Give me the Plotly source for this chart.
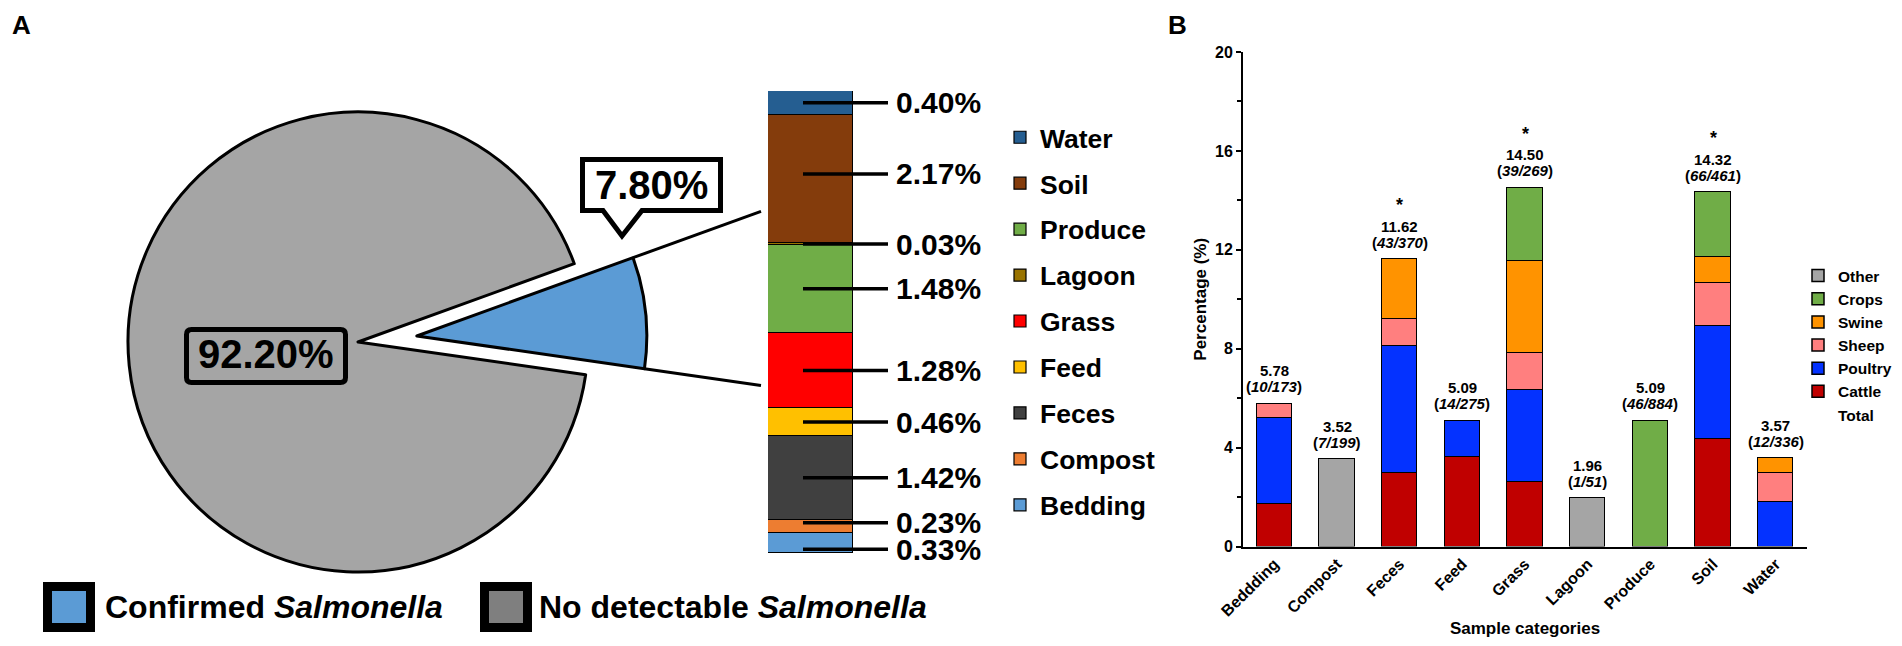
import math
import plotly.graph_objects as go

# The page has an 8px body margin, so the figure is 16px smaller than the window
# and all positions below are given in window pixels, then shifted by OFF.
WIN_W, WIN_H, OFF = 1902, 646, 8
W, H = WIN_W - 2 * OFF, WIN_H - 2 * OFF
FONT = "Liberation Sans, Arial, Helvetica, sans-serif"

# ---------------- data: panel A (pie) ----------------
pie_labels = ["Confirmed Salmonella", "No detectable Salmonella"]
pie_values = [7.80, 92.20]
pie_colors = ["#5B9BD5", "#A5A5A5"]
pie_legend_colors = ["#5B9BD5", "#7F7F7F"]

# ---------------- data: panel A (breakdown of positives, bottom -> top) -------
src_names = ["Bedding", "Compost", "Feces", "Feed", "Grass", "Produce", "Lagoon", "Soil", "Water"]
src_values = [0.33, 0.23, 1.42, 0.46, 1.28, 1.48, 0.03, 2.17, 0.40]
src_colors = ["#5B9BD5", "#ED7D31", "#404040", "#FFC000", "#FF0000", "#70AD47", "#997300", "#843C0C", "#255E91"]
src_legend_order = ["Water", "Soil", "Produce", "Lagoon", "Grass", "Feed", "Feces", "Compost", "Bedding"]

# ---------------- data: panel B ----------------
categories = ["Beddding", "Compost", "Feces", "Feed", "Grass", "Lagoon", "Produce", "Soil", "Water"]
cattle  = [1.73, None, 2.97, 3.64, 2.60, None, None, 4.34, None]
poultry = [3.47, None, 5.14, 1.45, 3.72, None, None, 4.56, 1.79]
sheep   = [0.58, None, 1.08, None, 1.49, None, None, 1.74, 1.19]
swine   = [None, None, 2.43, None, 3.72, None, None, 1.08, 0.59]
crops   = [None, None, None, None, 2.97, None, 5.09, 2.60, None]
other   = [None, 3.52, None, None, None, 1.96, None, None, None]
totals_pct = [5.78, 3.52, 11.62, 5.09, 14.50, 1.96, 5.09, 14.32, 3.57]
totals_frac = ["10/173", "7/199", "43/370", "14/275", "39/269", "1/51", "46/884", "66/461", "12/336"]
significant = [False, False, True, False, True, False, False, True, False]

series_names = ["Cattle", "Poultry", "Sheep", "Swine", "Crops", "Other"]
series_values = [cattle, poultry, sheep, swine, crops, other]
series_colors = ["#C00000", "#0432FF", "#FF7F7F", "#FF9300", "#70AD47", "#A5A5A5"]
series_legend_order = ["Other", "Crops", "Swine", "Sheep", "Poultry", "Cattle", "Total"]

# label nudges (pixels, positive = up) for crowded labels of the breakdown bar
label_nudge = {"Compost": 4, "Bedding": -6, "Soil": 5}


def px_x(p):
    return (p - OFF) / W


def px_y(p):
    return 1 - (p - OFF) / H


fig = go.Figure()

# ---------------- pie ----------------
PIE_CX, PIE_CY, PIE_R, PULL, ROT = 358, 342, 230, 0.257, 70.1
half = PIE_R * (1 + PULL)
fig.add_trace(go.Pie(
    labels=pie_labels, values=pie_values, sort=False, direction="clockwise",
    rotation=ROT, pull=[PULL, 0],
    marker=dict(colors=pie_colors, line=dict(color="black", width=3)),
    textinfo="none", hoverinfo="label+percent", showlegend=False,
    domain=dict(x=[px_x(PIE_CX - half), px_x(PIE_CX + half)],
                y=[px_y(PIE_CY + half), px_y(PIE_CY - half)]),
))

# zoom lines from the pulled slice to the stacked bar
frac = pie_values[0] / sum(pie_values)
a1 = math.radians(ROT)
a2 = math.radians(ROT + 360 * frac)
am = (a1 + a2) / 2
pcx = PIE_CX + PULL * PIE_R * math.sin(am)
pcy = PIE_CY - PULL * PIE_R * math.cos(am)
BAR_L, BAR_R, BAR_T, BAR_B = 768, 853, 91, 553
for a in (a1, a2):
    sx, sy = pcx + PIE_R * math.sin(a), pcy - PIE_R * math.cos(a)
    t = (BAR_L - 7 - sx) / math.sin(a)
    ex, ey = sx + t * math.sin(a), sy - t * math.cos(a)
    fig.add_shape(type="line", xref="paper", yref="paper",
                  x0=px_x(sx), y0=px_y(sy), x1=px_x(ex), y1=px_y(ey),
                  line=dict(color="black", width=3))

# ---------------- stacked breakdown bar ----------------
X2_RIGHT = 990
unit = BAR_R - BAR_L
total_src = sum(src_values)
px_per_val = (BAR_B - BAR_T) / total_src
cum = 0
for name, v, c in zip(src_names, src_values, src_colors):
    fig.add_trace(go.Bar(
        x=[0], y=[v], width=1, name=name, xaxis="x2", yaxis="y2",
        marker=dict(color=c, line=dict(color="black", width=1.2)),
        legend="legend", legendrank=src_legend_order.index(name) + 1,
        legendgroup=name, hoverinfo="name+y",
    ))
    mid = cum + v / 2 + label_nudge.get(name, 0) / px_per_val
    cum += v
    fig.add_shape(type="line", xref="x2", yref="y2",
                  x0=(803 - BAR_L) / unit - 0.5, x1=(888 - BAR_L) / unit - 0.5,
                  y0=mid, y1=mid, line=dict(color="black", width=3.5))
    fig.add_annotation(xref="x2", yref="y2", x=(894 - BAR_L) / unit - 0.5, y=mid,
                       xanchor="left", yanchor="middle", showarrow=False,
                       text=f"<b>{v:.2f}%</b>", font=dict(size=30, color="black"))

# ---------------- panel B bars ----------------
for name, vals, c in zip(series_names, series_values, series_colors):
    fig.add_trace(go.Bar(
        x=categories, y=vals, name=name, xaxis="x3", yaxis="y3", width=0.56,
        marker=dict(color=c, line=dict(color="black", width=1.5)),
        legend="legend2", legendrank=series_legend_order.index(name) + 1,
    ))
fig.add_trace(go.Scatter(
    x=[None], y=[None], name="Total", mode="markers", xaxis="x3", yaxis="y3",
    marker=dict(color="rgba(0,0,0,0)", size=1), legend="legend2",
    legendrank=series_legend_order.index("Total") + 1,
))

for cat, tot, fr, sig in zip(categories, totals_pct, totals_frac, significant):
    fig.add_annotation(xref="x3", yref="y3", x=cat, y=tot, xanchor="center", yanchor="middle",
                       yshift=17, showarrow=False,
                       text=f"<b>(<i>{fr}</i>)</b>", font=dict(size=15, color="black"))
    fig.add_annotation(xref="x3", yref="y3", x=cat, y=tot, xanchor="center", yanchor="middle",
                       yshift=33, showarrow=False,
                       text=f"<b>{tot:.2f}</b>", font=dict(size=15, color="black"))
    if sig:
        fig.add_annotation(xref="x3", yref="y3", x=cat, y=tot, xanchor="center", yanchor="middle",
                           yshift=54, showarrow=False,
                           text="<b>*</b>", font=dict(size=18, color="black"))


# ---------------- callouts ----------------
def rounded_box(x0, y0, x1, y1, r=5):
    pts = [
        f"M {px_x(x0 + r)},{px_y(y0)}", f"L {px_x(x1 - r)},{px_y(y0)}",
        f"Q {px_x(x1)},{px_y(y0)} {px_x(x1)},{px_y(y0 + r)}", f"L {px_x(x1)},{px_y(y1 - r)}",
        f"Q {px_x(x1)},{px_y(y1)} {px_x(x1 - r)},{px_y(y1)}", f"L {px_x(x0 + r)},{px_y(y1)}",
        f"Q {px_x(x0)},{px_y(y1)} {px_x(x0)},{px_y(y1 - r)}", f"L {px_x(x0)},{px_y(y0 + r)}",
        f"Q {px_x(x0)},{px_y(y0)} {px_x(x0 + r)},{px_y(y0)}", "Z",
    ]
    return " ".join(pts)


fig.add_shape(type="path", xref="paper", yref="paper",
              path=rounded_box(186.5, 329.5, 345.5, 382.5),
              fillcolor=pie_colors[1], line=dict(color="black", width=5))
fig.add_annotation(xref="paper", yref="paper", x=px_x(266), y=px_y(354),
                   xanchor="center", yanchor="middle",
                   showarrow=False, text=f"<b>{pie_values[1]:.2f}%</b>",
                   font=dict(size=40, color="black"))

bx0, bx1, by0, by1 = 582.5, 720.5, 159.5, 210.5
path = (f"M {px_x(bx0)},{px_y(by0)} L {px_x(bx1)},{px_y(by0)} L {px_x(bx1)},{px_y(by1)} "
        f"L {px_x(642)},{px_y(by1)} L {px_x(622)},{px_y(236)} L {px_x(603)},{px_y(by1)} "
        f"L {px_x(bx0)},{px_y(by1)} Z")
fig.add_shape(type="path", xref="paper", yref="paper", path=path,
              fillcolor="white", line=dict(color="black", width=5))
fig.add_annotation(xref="paper", yref="paper", x=px_x((bx0 + bx1) / 2), y=px_y(185),
                   xanchor="center", yanchor="middle",
                   showarrow=False, text=f"<b>{pie_values[0]:.2f}%</b>",
                   font=dict(size=40, color="black"))

# ---------------- pie legend ----------------
for (x0, tx), lab, col in zip([(47.5, 103), (484.5, 537)], pie_labels, pie_legend_colors):
    fig.add_shape(type="rect", xref="paper", yref="paper",
                  x0=px_x(x0), x1=px_x(x0 + 43), y0=px_y(586.5), y1=px_y(627.5),
                  fillcolor=col, line=dict(color="black", width=9))
    word, sal = lab.rsplit(" ", 1)
    fig.add_annotation(xref="paper", yref="paper", x=px_x(tx), y=px_y(607),
                       xanchor="left", yanchor="middle", showarrow=False,
                       text=f"<b>{word} <i>{sal}</i></b>", font=dict(size=32, color="black"))

# panel letters
fig.add_annotation(xref="paper", yref="paper", x=px_x(10), y=px_y(OFF), xanchor="left",
                   yanchor="top", showarrow=False, text="<b>A</b>",
                   font=dict(size=26, color="black"))
fig.add_annotation(xref="paper", yref="paper", x=px_x(1166), y=px_y(OFF), xanchor="left",
                   yanchor="top", showarrow=False, text="<b>B</b>",
                   font=dict(size=26, color="black"))

B_L, B_R, B_T, B_B = 1243, 1807, 52, 546.5
fig.update_layout(
    width=W, height=H, margin=dict(l=0, r=0, t=0, b=0, pad=0, autoexpand=False),
    paper_bgcolor="white", plot_bgcolor="rgba(0,0,0,0)",
    font=dict(family=FONT, color="black"),
    barmode="stack", bargap=0,
    xaxis2=dict(domain=[px_x(BAR_L), px_x(X2_RIGHT)], range=[-0.5, (X2_RIGHT - BAR_L) / unit - 0.5],
                visible=False, anchor="y2"),
    yaxis2=dict(domain=[px_y(BAR_B), px_y(BAR_T)], range=[0, total_src], visible=False, anchor="x2"),
    xaxis3=dict(domain=[px_x(B_L), px_x(B_R)], anchor="y3", showline=True, linecolor="black",
                linewidth=2, ticks="", tickangle=-45, tickfont=dict(size=16, weight="bold"),
                title=dict(text="Sample categories", font=dict(size=17, weight="bold"), standoff=4),
                showgrid=False, zeroline=False, automargin=False),
    yaxis3=dict(domain=[px_y(B_B), px_y(B_T)], anchor="x3", range=[0, 20], dtick=4, tick0=0,
                showline=True, linecolor="black", linewidth=2, ticks="outside", ticklen=5,
                tickwidth=2, tickcolor="black", showgrid=False, zeroline=False,
                minor=dict(dtick=2, ticks="outside", ticklen=4, tickwidth=1.5, tickcolor="black"),
                tickfont=dict(size=16, weight="bold"), automargin=False,
                title=dict(text="Percentage (%)", font=dict(size=17, weight="bold"), standoff=4)),
    legend=dict(x=px_x(1000), y=px_y(113.5), xanchor="left", yanchor="top",
                font=dict(size=26.5, weight="bold"), traceorder="grouped",
                tracegroupgap=8.5, bgcolor="rgba(0,0,0,0)", itemclick=False),
    legend2=dict(x=px_x(1798), y=px_y(259), xanchor="left", yanchor="top",
                 font=dict(size=15.5, weight="bold"), traceorder="normal",
                 bgcolor="rgba(0,0,0,0)", itemclick=False),
    showlegend=True,
)

fig.write_html("out.html")
